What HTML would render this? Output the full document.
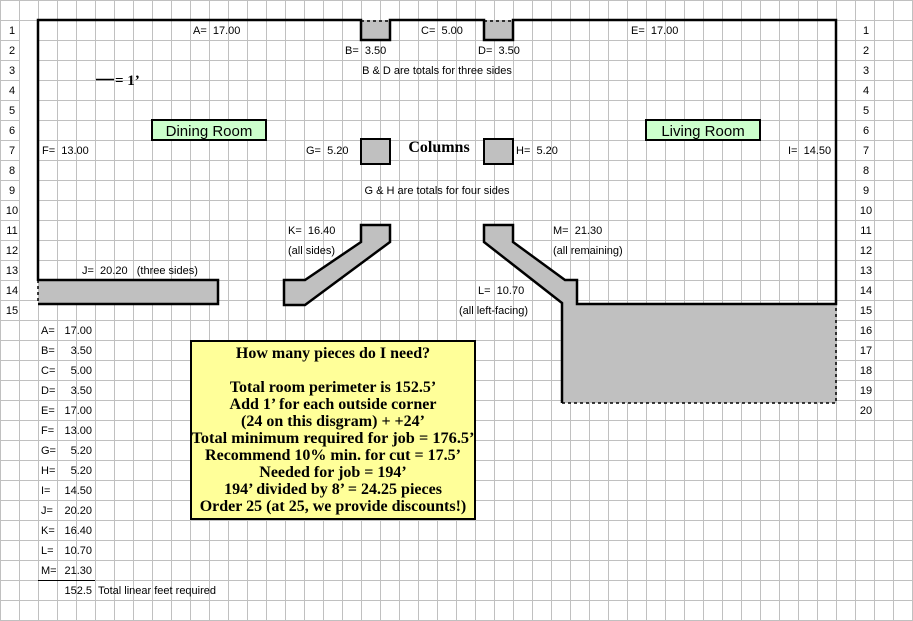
<!DOCTYPE html>
<html><head><meta charset="utf-8"><style>
html,body{margin:0;padding:0;background:#fff;width:913px;height:621px;overflow:hidden}
svg{display:block}
text{font-family:"Liberation Sans",Arial,sans-serif;font-size:11px;fill:#000}
.b{font-family:"Liberation Serif",serif;font-weight:bold;font-size:16px}
</style></head><body>
<svg width="913" height="621" viewBox="0 0 913 621" xmlns="http://www.w3.org/2000/svg">
<defs>
<pattern id="gp" patternUnits="userSpaceOnUse" x="0" y="0" width="19" height="20">
<line x1="0.5" y1="0" x2="0.5" y2="20" stroke="#c0c0c0" stroke-width="1"/>
<line x1="0" y1="0.5" x2="19" y2="0.5" stroke="#c0c0c0" stroke-width="1"/>
</pattern>
</defs>
<rect x="0" y="0" width="913" height="621" fill="url(#gp)"/>
<rect x="20" y="21" width="17" height="279" fill="#fff"/>
<g text-anchor="middle">
<text x="12" y="34">1</text><text x="12" y="54">2</text><text x="12" y="74">3</text><text x="12" y="94">4</text><text x="12" y="114">5</text>
<text x="12" y="134">6</text><text x="12" y="154">7</text><text x="12" y="174">8</text><text x="12" y="194">9</text><text x="12" y="214">10</text>
<text x="12" y="234">11</text><text x="12" y="254">12</text><text x="12" y="274">13</text><text x="12" y="294">14</text><text x="12" y="314">15</text>
<text x="866" y="34">1</text><text x="866" y="54">2</text><text x="866" y="74">3</text><text x="866" y="94">4</text><text x="866" y="114">5</text>
<text x="866" y="134">6</text><text x="866" y="154">7</text><text x="866" y="174">8</text><text x="866" y="194">9</text><text x="866" y="214">10</text>
<text x="866" y="234">11</text><text x="866" y="254">12</text><text x="866" y="274">13</text><text x="866" y="294">14</text><text x="866" y="314">15</text>
<text x="866" y="334">16</text><text x="866" y="354">17</text><text x="866" y="374">18</text><text x="866" y="394">19</text><text x="866" y="414">20</text>
</g>
<rect x="361" y="20" width="29" height="20" fill="#c0c0c0"/>
<rect x="484" y="20" width="29" height="20" fill="#c0c0c0"/>
<rect x="38" y="280" width="180" height="24" fill="#c0c0c0"/>
<polygon points="361,225 390,225 390,242 305,305 284,305 284,280 305,280 361,242" fill="#c0c0c0" stroke="#000" stroke-width="2.5"/>
<polygon points="484,225 513,225 513,242 565,280 577,280 577,304 836,304 836,403 562,403 562,303 484,242" fill="#c0c0c0"/>
<g fill="none" stroke="#000" stroke-width="2.5">
<polyline points="38,281 38,20 361,20 361,40 390,40 390,20 484,20 484,40 513,40 513,20 836,20 836,304 577,304 577,280 565,280 513,242 513,225 484,225 484,242 562,303 562,403"/>
<polyline points="38,280 218,280 218,304 38,304"/>
</g>
<g fill="none" stroke="#000" stroke-width="1.5" stroke-dasharray="3,3">
<line x1="38" y1="280" x2="38" y2="304"/>
<line x1="361" y1="21" x2="390" y2="21"/>
<line x1="484" y1="21" x2="513" y2="21"/>
<polyline points="562,403 836,403 836,304"/>
</g>
<rect x="361" y="139" width="29" height="25" fill="#c0c0c0" stroke="#000" stroke-width="2"/>
<rect x="484" y="139" width="29" height="25" fill="#c0c0c0" stroke="#000" stroke-width="2"/>
<rect x="152" y="120" width="114" height="20" fill="#ccffcc" stroke="#000" stroke-width="2"/>
<text x="209" y="136" text-anchor="middle" style="font-size:15px">Dining Room</text>
<rect x="646" y="120" width="114" height="20" fill="#ccffcc" stroke="#000" stroke-width="2"/>
<text x="703" y="136" text-anchor="middle" style="font-size:15px">Living Room</text>
<line x1="96" y1="79.5" x2="114" y2="79.5" stroke="#000" stroke-width="1.5"/>
<text class="b" x="115" y="85" style="font-size:15px">= 1’</text>
<text class="b" x="439" y="152" text-anchor="middle">Columns</text>
<text x="193" y="34">A=&#160;&#160;17.00</text>
<text x="345" y="54">B=&#160;&#160;3.50</text>
<text x="421" y="34">C=&#160;&#160;5.00</text>
<text x="478" y="54">D=&#160;&#160;3.50</text>
<text x="631" y="34">E=&#160;&#160;17.00</text>
<text x="437" y="74" text-anchor="middle">B &amp; D are totals for three sides</text>
<text x="42" y="154">F=&#160;&#160;13.00</text>
<text x="306" y="154">G=&#160;&#160;5.20</text>
<text x="516" y="154">H=&#160;&#160;5.20</text>
<text x="788" y="154">I=&#160;&#160;14.50</text>
<text x="437" y="194" text-anchor="middle">G &amp; H are totals for four sides</text>
<text x="288" y="234">K=&#160;&#160;16.40</text>
<text x="288" y="254">(all sides)</text>
<text x="553" y="234">M=&#160;&#160;21.30</text>
<text x="553" y="254">(all remaining)</text>
<text x="82" y="274">J=&#160;&#160;20.20&#160;&#160;&#160;(three sides)</text>
<text x="478" y="294">L=&#160;&#160;10.70</text>
<text x="459" y="314">(all left-facing)</text>
<g>
<text x="41" y="334">A=</text><text x="92" y="334" text-anchor="end">17.00</text>
<text x="41" y="354">B=</text><text x="92" y="354" text-anchor="end">3.50</text>
<text x="41" y="374">C=</text><text x="92" y="374" text-anchor="end">5.00</text>
<text x="41" y="394">D=</text><text x="92" y="394" text-anchor="end">3.50</text>
<text x="41" y="414">E=</text><text x="92" y="414" text-anchor="end">17.00</text>
<text x="41" y="434">F=</text><text x="92" y="434" text-anchor="end">13.00</text>
<text x="41" y="454">G=</text><text x="92" y="454" text-anchor="end">5.20</text>
<text x="41" y="474">H=</text><text x="92" y="474" text-anchor="end">5.20</text>
<text x="41" y="494">I=</text><text x="92" y="494" text-anchor="end">14.50</text>
<text x="41" y="514">J=</text><text x="92" y="514" text-anchor="end">20.20</text>
<text x="41" y="534">K=</text><text x="92" y="534" text-anchor="end">16.40</text>
<text x="41" y="554">L=</text><text x="92" y="554" text-anchor="end">10.70</text>
<text x="41" y="574">M=</text><text x="92" y="574" text-anchor="end">21.30</text>
</g>
<line x1="38" y1="580.5" x2="95" y2="580.5" stroke="#000" stroke-width="1"/>
<text x="92" y="594" text-anchor="end">152.5</text>
<text x="98" y="594">Total linear feet required</text>
<rect x="191" y="341" width="284" height="178" fill="#ffff99" stroke="#000" stroke-width="2"/>
<text class="b" x="333" y="358" text-anchor="middle">How many pieces do I need?</text>
<text class="b" x="333" y="392" text-anchor="middle">Total room perimeter is 152.5’</text>
<text class="b" x="333" y="409" text-anchor="middle">Add 1’ for each outside corner</text>
<text class="b" x="333" y="426" text-anchor="middle">(24 on this disgram) + +24’</text>
<text class="b" x="333" y="443" text-anchor="middle" textLength="283" lengthAdjust="spacingAndGlyphs">Total minimum required for job = 176.5’</text>
<text class="b" x="333" y="460" text-anchor="middle">Recommend 10% min. for cut = 17.5’</text>
<text class="b" x="333" y="477" text-anchor="middle">Needed for job = 194’</text>
<text class="b" x="333" y="494" text-anchor="middle">194’ divided by 8’ = 24.25 pieces</text>
<text class="b" x="333" y="511" text-anchor="middle">Order 25 (at 25, we provide discounts!)</text>
</svg>
</body></html>
